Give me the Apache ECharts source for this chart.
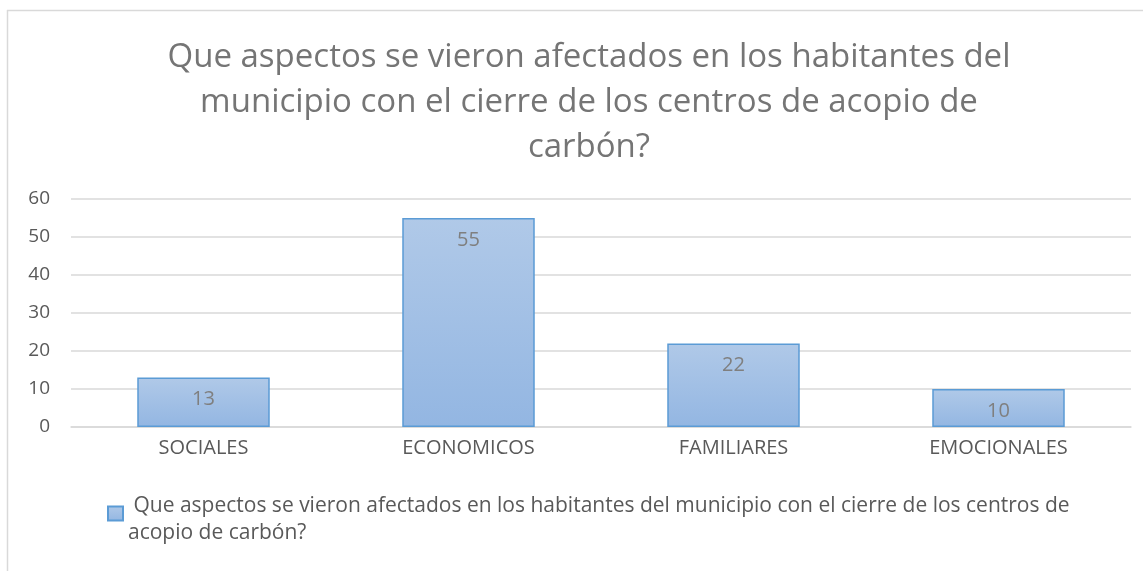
<!DOCTYPE html>
<html>
<head>
<meta charset="utf-8">
<script src="https://cdn.jsdelivr.net/npm/echarts@6/dist/echarts.min.js"></script>
<style>
  html, body { margin: 0; padding: 0; background: #fff; }
  #chart { width: 1143px; height: 571px; }
</style>
</head>
<body>
<div id="chart"></div>
<script>
const titleText = 'Que aspectos se vieron afectados en los habitantes del\nmunicipio con el cierre de los centros de acopio de\ncarbón?';
const seriesName = 'Que aspectos se vieron afectados en los habitantes del municipio con el cierre de los centros de acopio de carbón?';
const legendLines = [
  ' Que aspectos se vieron afectados en los habitantes del municipio con el cierre de los centros de',
  'acopio de carbón?'
];
const categories = ['SOCIALES', 'ECONOMICOS', 'FAMILIARES', 'EMOCIONALES'];
const values = [13, 55, 22, 10];
const yTicks = { min: 0, max: 60, interval: 10 };

const font = 'Open Sans';
const chart = echarts.init(document.getElementById('chart'));

chart.setOption({
  animation: false,
  title: {
    text: titleText,
    left: 589,
    top: 35,
    padding: 0,
    textAlign: 'center',
    textStyle: {
      fontFamily: font,
      fontSize: 33,
      fontWeight: 'normal',
      color: '#757575',
      lineHeight: 45,
      align: 'center'
    }
  },
  grid: { left: 71, right: 12, top: 199, bottom: 144, containLabel: false },
  legend: {
    left: 107,
    top: 480,
    padding: 0,
    itemWidth: 15,
    itemHeight: 14,
    itemGap: 0,
    icon: 'rect',
    data: [seriesName],
    // spacer line on top lifts the swatch between the two text lines, as in the original
    formatter: () => '{s| }\n{t|' + legendLines[0] + '}\n{t|' + legendLines[1] + '}',
    textStyle: {
      fontFamily: font,
      fontSize: 21,
      color: '#595959',
      rich: {
        s: { fontSize: 1, lineHeight: 13, height: 13 },
        t: { fontFamily: font, fontSize: 21, color: '#595959', lineHeight: 27 }
      }
    }
  },
  xAxis: {
    type: 'category',
    data: categories,
    axisLine: { lineStyle: { color: '#d9d9d9', width: 1.5 } },
    axisTick: { show: false },
    axisLabel: { fontFamily: font, fontSize: 20, color: '#595959', margin: 11 }
  },
  yAxis: {
    type: 'value',
    min: yTicks.min,
    max: yTicks.max,
    interval: yTicks.interval,
    axisLine: { show: false },
    axisTick: { show: false },
    splitLine: { lineStyle: { color: '#d9d9d9', width: 1.5 } },
    axisLabel: { fontFamily: font, fontSize: 19, color: '#595959', margin: 21, align: 'right' }
  },
  series: [{
    name: seriesName,
    type: 'bar',
    data: values,
    barWidth: '50%',
    itemStyle: {
      color: new echarts.graphic.LinearGradient(0, 0, 0, 1, [
        { offset: 0, color: '#b0c9e8' },
        { offset: 1, color: '#93b6e2' }
      ]),
      borderColor: '#5b9bd5',
      borderWidth: 1.5
    },
    label: {
      show: true,
      position: 'insideTop',
      distance: 12,
      fontFamily: font,
      fontSize: 20,
      color: '#7f7f7f'
    }
  }],
  graphic: [
    { type: 'line', shape: { x1: 7.5, y1: 10, x2: 7.5, y2: 571 }, style: { stroke: '#d9d9d9', lineWidth: 1.5 } },
    { type: 'line', shape: { x1: 7, y1: 10.5, x2: 1143, y2: 10.5 }, style: { stroke: '#d9d9d9', lineWidth: 1.5 } }
  ]
});
</script>
</body>
</html>
